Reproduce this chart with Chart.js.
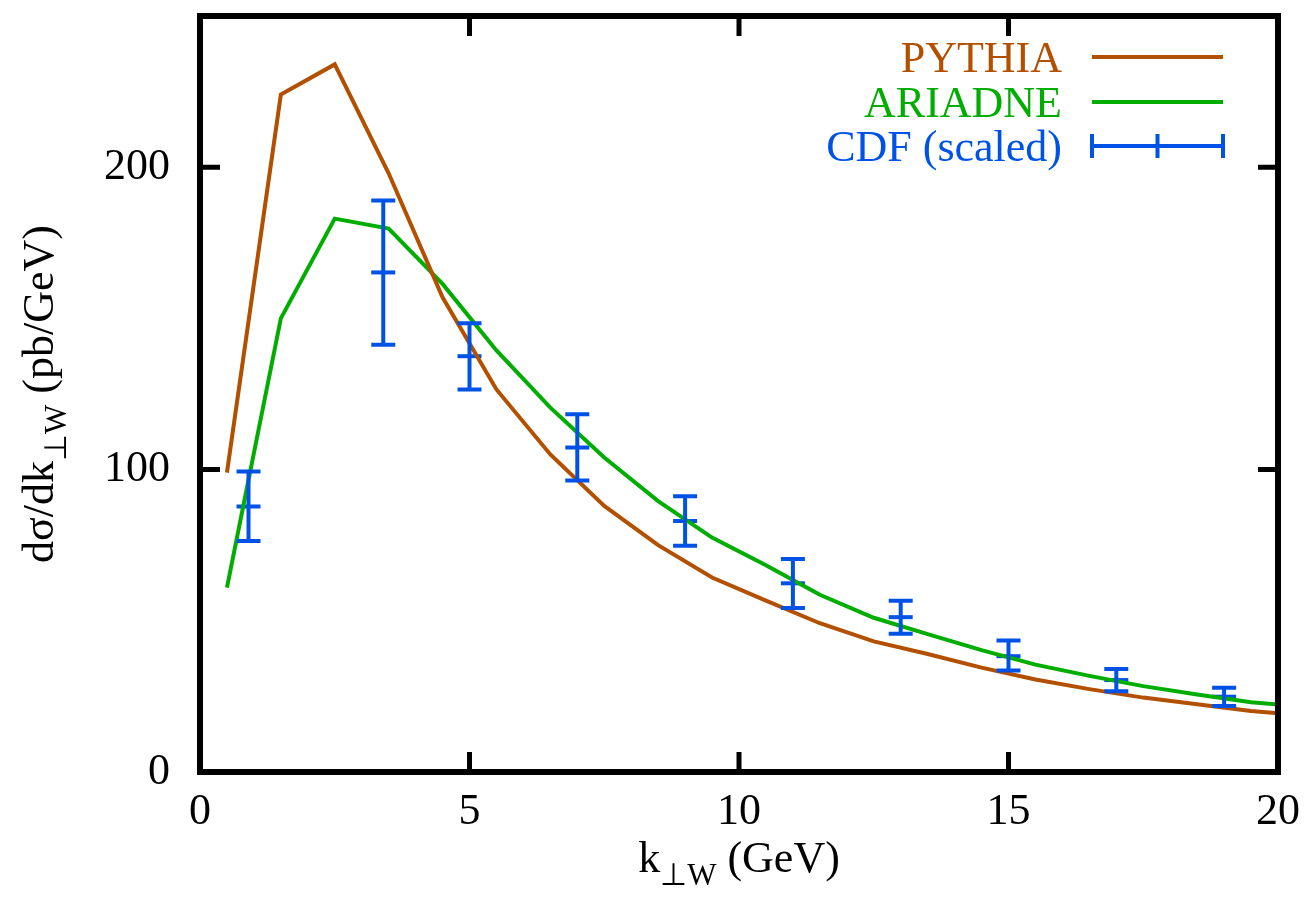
<!DOCTYPE html>
<html>
<head>
<meta charset="utf-8">
<script src="https://cdn.jsdelivr.net/npm/chart.js@4"></script>
<style>html,body{margin:0;padding:0;background:#fff}</style>
</head>
<body>
<canvas id="chart" width="1307" height="915"></canvas>
<script>
// model curves (k_perp W in GeV, dsigma/dk in pb/GeV)
const modelKt = [0.5, 1.5, 2.5, 3.5, 4.5, 5.5, 6.5, 7.5, 8.5, 9.5, 10.5, 11.5, 12.5, 13.5, 14.5, 15.5, 16.5, 17.5, 18.5, 19.5, 20];
const pythiaY = [99, 224, 234, 198, 157, 126.5, 105, 88, 75, 64.3, 56.7, 49.2, 43.2, 39, 34.5, 30.6, 27.4, 24.6, 22.4, 20.2, 19.4];
const ariadneY = [61, 150, 183, 179.7, 161.4, 139.4, 120.5, 104, 89.6, 77.5, 68.4, 58.6, 51, 45.6, 40.3, 35.5, 31.8, 28.4, 25.6, 23.1, 22.3];

// CDF data points with error bars
const cdfKt = [0.9, 3.4, 5, 7, 9, 11, 13, 15, 17, 19];
const cdfY = [87.8, 165.2, 137.5, 107.3, 83, 62.4, 51.2, 38.3, 30.4, 24.9];
const cdfLow = [76.4, 141.3, 126.5, 96.4, 74.8, 54.2, 45.7, 33.6, 26.7, 21.8];
const cdfHigh = [99.4, 189, 148.4, 118.3, 91.2, 70.4, 56.6, 43.5, 34.1, 27.9];

const xTicks = [0, 5, 10, 15, 20];
const yTicks = [0, 100, 200];

const legendLabels = ['PYTHIA', 'ARIADNE', 'CDF (scaled)'];
const colors = ['#b35000', '#00ad00', '#0052e6'];

const FONT = '"Liberation Serif", "Times New Roman", serif';

function pts(xs, ys) {
  return xs.map((x, i) => ({ x: x, y: ys[i] }));
}

function noPad(s) {
  s.paddingTop = 0; s.paddingBottom = 0; s.paddingLeft = 0; s.paddingRight = 0;
}

const errorBars = {
  id: 'errorBars',
  afterDatasetsDraw(chart) {
    const ctx = chart.ctx;
    const xs = chart.scales.x, ys = chart.scales.y;
    const half = 12;
    ctx.save();
    ctx.strokeStyle = colors[2];
    ctx.lineWidth = 4;
    cdfKt.forEach((k, i) => {
      const px = xs.getPixelForValue(k);
      const lo = ys.getPixelForValue(cdfLow[i]);
      const hi = ys.getPixelForValue(cdfHigh[i]);
      ctx.beginPath();
      ctx.moveTo(px, lo); ctx.lineTo(px, hi);
      ctx.moveTo(px - half, lo); ctx.lineTo(px + half, lo);
      ctx.moveTo(px - half, hi); ctx.lineTo(px + half, hi);
      ctx.stroke();
    });
    ctx.restore();
  }
};

const frame = {
  id: 'frame',
  afterDraw(chart) {
    const ctx = chart.ctx;
    const a = chart.chartArea;
    const xs = chart.scales.x, ys = chart.scales.y;
    const tl = 20;
    ctx.save();
    ctx.strokeStyle = '#000';
    ctx.lineWidth = 6;
    ctx.strokeRect(a.left, a.top, a.right - a.left, a.bottom - a.top);
    ctx.lineWidth = 5;
    ctx.beginPath();
    xTicks.forEach(v => {
      const px = xs.getPixelForValue(v);
      ctx.moveTo(px, a.bottom); ctx.lineTo(px, a.bottom - tl);
      ctx.moveTo(px, a.top); ctx.lineTo(px, a.top + tl);
    });
    yTicks.forEach(v => {
      const py = ys.getPixelForValue(v);
      ctx.moveTo(a.left, py); ctx.lineTo(a.left + tl, py);
      ctx.moveTo(a.right, py); ctx.lineTo(a.right - tl, py);
    });
    ctx.stroke();

    // legend
    const textRight = 1062, lx0 = 1092, lx1 = 1223;
    const rows = [57, 102, 146];
    ctx.font = '44px ' + FONT;
    ctx.textAlign = 'right';
    ctx.textBaseline = 'alphabetic';
    legendLabels.forEach((t, i) => {
      ctx.fillStyle = colors[i];
      ctx.fillText(t, textRight, rows[i] + 15);
      ctx.strokeStyle = colors[i];
      ctx.lineWidth = 4;
      ctx.beginPath();
      ctx.moveTo(lx0, rows[i]); ctx.lineTo(lx1, rows[i]);
      if (i === 2) {
        ctx.moveTo(lx0, rows[i] - 12); ctx.lineTo(lx0, rows[i] + 12);
        ctx.moveTo(lx1, rows[i] - 12); ctx.lineTo(lx1, rows[i] + 12);
        const m = (lx0 + lx1) / 2;
        ctx.moveTo(m, rows[i] - 12); ctx.lineTo(m, rows[i] + 12);
      }
      ctx.stroke();
    });

    // axis titles with subscripts
    ctx.fillStyle = '#000';
    ctx.textAlign = 'left';
    const big = '44px ' + FONT, small = '31px ' + FONT;
    function drawSub(parts, x, y) {
      let cx = x;
      parts.forEach(p => {
        ctx.font = p.sub ? small : big;
        ctx.fillText(p.t, cx, y + (p.sub ? 13 : 0));
        cx += ctx.measureText(p.t).width;
      });
    }
    function width(parts) {
      let w = 0;
      parts.forEach(p => { ctx.font = p.sub ? small : big; w += ctx.measureText(p.t).width; });
      return w;
    }
    const xt = [{ t: 'k' }, { t: '\u22A5W', sub: true }, { t: ' (GeV)' }];
    const xc = (a.left + a.right) / 2;
    drawSub(xt, xc - width(xt) / 2, 872);

    const yt = [{ t: 'd\u03C3/dk' }, { t: '\u22A5W', sub: true }, { t: ' (pb/GeV)' }];
    const yc = (a.top + a.bottom) / 2;
    ctx.translate(53, yc);
    ctx.rotate(-Math.PI / 2);
    drawSub(yt, -width(yt) / 2, 0);
    ctx.restore();
  }
};

new Chart(document.getElementById('chart'), {
  type: 'line',
  data: {
    datasets: [
      { label: legendLabels[0], data: pts(modelKt, pythiaY), borderColor: colors[0], borderWidth: 4, pointRadius: 0, tension: 0, fill: false },
      { label: legendLabels[1], data: pts(modelKt, ariadneY), borderColor: colors[1], borderWidth: 4, pointRadius: 0, tension: 0, fill: false },
      { label: legendLabels[2], data: pts(cdfKt, cdfY), type: 'scatter', showLine: false, borderColor: colors[2], backgroundColor: colors[2],
        pointStyle: 'line', pointRadius: 12, borderWidth: 4, pointHoverRadius: 12 }
    ]
  },
  options: {
    responsive: false,
    animation: false,
    devicePixelRatio: 1,
    layout: { padding: { top: 12, right: 29, left: 0, bottom: 0 } },
    plugins: { legend: { display: false }, tooltip: { enabled: false } },
    scales: {
      x: {
        type: 'linear', min: 0, max: 20,
        grid: { display: false, drawTicks: false },
        border: { display: false },
        ticks: { stepSize: 5, includeBounds: false, color: '#000', padding: 14, maxRotation: 0, font: { family: FONT, size: 44 } },
        afterFit: s => { s.height = 143; noPad(s); }
      },
      y: {
        type: 'linear', min: 0, max: 250,
        grid: { display: false, drawTicks: false },
        border: { display: false },
        ticks: { stepSize: 100, includeBounds: false, color: '#000', padding: 30, font: { family: FONT, size: 44 } },
        afterFit: s => { s.width = 200; noPad(s); }
      }
    }
  },
  plugins: [errorBars, frame]
});
</script>
</body>
</html>
